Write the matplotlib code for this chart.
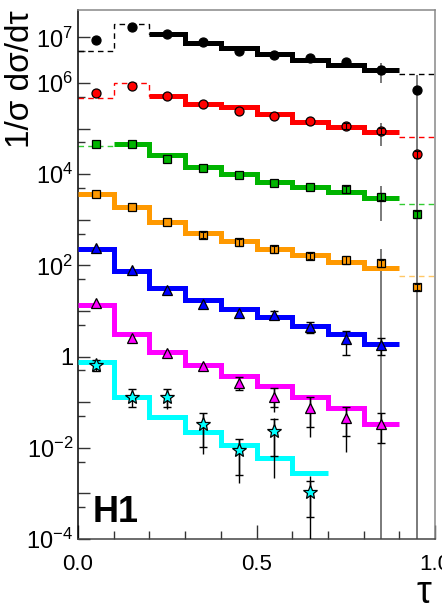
import numpy as np
import matplotlib
matplotlib.use('Agg')
import matplotlib.pyplot as plt
from matplotlib.ticker import FixedLocator, FixedFormatter

plt.rcParams['font.family'] = ['Liberation Sans', 'DejaVu Sans']
plt.rcParams['mathtext.default'] = 'regular'

# bins in tau
edges = [0.0, 0.1, 0.2, 0.3, 0.4, 0.5, 0.6, 0.7, 0.8, 0.9, 1.0]
centres = [0.05, 0.15, 0.25, 0.35, 0.45, 0.55, 0.65, 0.75, 0.85, 0.95]

# data points (scaled per Q2 bin) and model histograms
black_pts = [8.8e6, 1.67e7, 1.19e7, 7.8e6, 5.1e6, 4.1e6, 3.5e6, 2.9e6, 1.93e6, 7.0e5]
black_mc = [5.1e6, 1.97e7, 1.17e7, 7.4e6, 5.8e6, 4.3e6, 3.2e6, 2.5e6, 1.93e6, 1.57e6]

red_pts = [5.9e5, 8.7e5, 5.2e5, 3.4e5, 2.4e5, 1.9e5, 1.47e5, 1.16e5, 8.9e4, 2.8e4]
red_mc = [4.8e5, 9.8e5, 5.3e5, 3.4e5, 3.0e5, 2.1e5, 1.42e5, 1.10e5, 8.3e4, 6.6e4]

green_pts = [4.6e4, 4.6e4, 2.2e4, 1.35e4, 9.5e3, 6.5e3, 5.3e3, 4.7e3, 3.2e3, 1.32e3]
green_mc = [4.2e4, 4.6e4, 2.6e4, 1.46e4, 1.0e4, 6.9e3, 5.3e3, 4.1e3, 3.05e3, 2.2e3]

orange_pts = [3600, 1940, 880, 465, 320, 225, 161, 131, 111, 34]
orange_mc = [3600, 1940, 910, 520, 350, 232, 169, 120, 86, 59]

blue_pts = [237, 79, 29, 14.3, 8.9, 8.2, 4.5, 2.4, 1.8]
blue_mc = [232, 77, 31.5, 17.4, 10.9, 7.3, 4.7, 3.1, 1.9]

magenta_pts = [14.8, 2.5, 1.18, 0.63, 0.26, 0.132, 0.074, 0.044, 0.033]
magenta_mc = [13.6, 3.2, 1.28, 0.655, 0.376, 0.226, 0.132, 0.074, 0.033]

cyan_pts = [0.655, 0.132, 0.132, 0.033, 0.009, 0.023, 0.00106]
cyan_mc = [0.76, 0.128, 0.048, 0.0225, 0.0115, 0.006, 0.0028]

# large (grey) uncertainties: (tau, low, high)
grey_bars = [(0.85, 9.8e5, 2.8e6), (0.95, 1e-5, 1.5e6), (0.85, 4.15e4, 1.35e5),
             (0.85, 955, 5.5e3), (0.85, 1e-5, 225)]

# statistical errors with caps: (tau, value, low, high)
stat_errs = [
    (0.55, 8.2, 7.5, 10.2), (0.65, 4.5, 3.24, 5.82), (0.75, 2.4, 1.08, 3.7), (0.85, 1.8, 1.08, 2.52),
    (0.45, 0.26, 0.185, 0.357), (0.55, 0.132, 0.0785, 0.205), (0.65, 0.074, 0.029, 0.130),
    (0.75, 0.044, 0.0181, 0.0773), (0.85, 0.033, 0.0129, 0.057),
    (0.05, 0.655, 0.483, 0.841), (0.15, 0.132, 0.0796, 0.192), (0.25, 0.132, 0.0773, 0.192),
    (0.35, 0.033, 0.0106, 0.0589), (0.45, 0.009, 0.00253, 0.0153), (0.55, 0.023, 0.0066, 0.0421),
    (0.65, 0.00106, 0.000299, 0.00187),
]
# small errors drawn inside markers
inner_errs = [
    (0.85, 1.93e6, 1.6e6, 2.3e6), (0.75, 1.16e5, 1.0e5, 1.35e5), (0.85, 8.9e4, 7.5e4, 1.05e5),
    (0.95, 2.8e4, 2.3e4, 3.3e4), (0.75, 4.7e3, 3.9e3, 5.6e3), (0.85, 3.2e3, 2.7e3, 3.8e3),
    (0.95, 1.32e3, 1.1e3, 1.55e3), (0.35, 465, 400, 540), (0.45, 320, 270, 380),
    (0.55, 225, 190, 265), (0.65, 161, 136, 190), (0.75, 131, 105, 160), (0.85, 111, 94, 131),
    (0.95, 34, 29, 40),
]
# total errors (line only): (tau, low, high)
total_errs = [(0.55, 0.062, 0.205), (0.65, 0.0175, 0.13), (0.75, 0.0082, 0.0773),
              (0.25, 0.071, 0.192), (0.35, 0.0073, 0.0589), (0.45, 0.00166, 0.0153),
              (0.55, 0.00214, 0.0444), (0.65, 5e-5, 0.00241)]

fig = plt.figure(figsize=(4.42, 6.11), dpi=100)
ax = fig.add_axes([0.1765, 0.1178, 0.8077, 0.8658])
ax.set_yscale('log')
ax.set_xlim(0, 1)
ax.set_ylim(1e-4, 3.98e7)

# colour, marker, marker size, dashed-head bins, dashed tail, dashed colour
series = [
    (black_pts, black_mc, 'black', 'o', 6.5, 3, True, 'black'),
    (red_pts, red_mc, '#ff0000', 'o', 6.5, 3, True, '#ff0000'),
    (green_pts, green_mc, '#00b400', 's', 6.2, 1, True, '#33cc33'),
    (orange_pts, orange_mc, '#ff9900', 's', 6.2, 0, True, '#ffc766'),
    (blue_pts, blue_mc, '#0000ff', '^', 6.8, 0, False, None),
    (magenta_pts, magenta_mc, '#ff00ff', '^', 6.8, 0, False, None),
    (cyan_pts, cyan_mc, '#00ffff', '*', 10, 0, False, None),
]

for pts, mc, col, mk, ms, head, tail, dcol in series:
    n = len(mc)
    last = n - 1 if tail else n
    first = min(head, 2)
    ax.stairs(mc[first:last], edges[first:last + 1],
              color=col, lw=3.6, baseline=None, zorder=3)
    if head:
        ax.stairs(mc[:head], edges[:head + 1], color=dcol, lw=1, ls=(0, (4, 3)),
                  baseline=None, zorder=2)
    if tail:
        ax.stairs(mc[-1:], edges[-2:], color=dcol, lw=1, ls=(0, (4, 3)),
                  baseline=None, zorder=2)
    ax.plot(centres[:len(pts)], pts, ls='none', marker=mk, ms=ms, mfc=col,
            mec='black', mew=0.9, zorder=6)

for x, lo, hi in grey_bars:
    ax.vlines(x, lo, hi, color='#7a7a7a', lw=1.4, zorder=1)
for x, lo, hi in total_errs:
    ax.vlines(x, lo, hi, color='black', lw=1, zorder=5)
for x, y, lo, hi in stat_errs:
    ax.errorbar([x], [y], yerr=[[y - lo], [hi - y]], fmt='none', ecolor='black',
                elinewidth=1, capsize=3, capthick=1, zorder=5)
for x, y, lo, hi in inner_errs:
    ax.errorbar([x], [y], yerr=[[y - lo], [hi - y]], fmt='none', ecolor='black',
                elinewidth=0.8, capsize=2, capthick=0.8, zorder=7)

# axis styling (ROOT-like)
ylab = {7: '$10^{7}$', 6: '$10^{6}$', 4: '$10^{4}$', 2: '$10^{2}$', 0: '1',
        -2: '$10^{-2}$', -4: '$10^{-4}$'}
ymaj = list(range(-4, 8))
ax.yaxis.set_major_locator(FixedLocator([10.0 ** k for k in ymaj]))
ax.yaxis.set_major_formatter(FixedFormatter([ylab.get(k, '') for k in ymaj]))
ax.yaxis.set_minor_locator(FixedLocator([5 * 10.0 ** k for k in range(-4, 7)]))
ax.xaxis.set_major_locator(FixedLocator([0.0, 0.5, 1.0]))
ax.xaxis.set_major_formatter(FixedFormatter(['0.0', '0.5', '1.0']))
ax.xaxis.set_minor_locator(FixedLocator([0.1, 0.2, 0.3, 0.4, 0.6, 0.7, 0.8, 0.9]))

ax.tick_params(axis='y', which='major', direction='in', length=8.5, width=1,
               color='#333333', labelsize=17, pad=3.5)
ax.tick_params(axis='y', which='minor', direction='in', length=5, width=1, color='#333333')
ax.tick_params(axis='x', which='major', direction='in', length=10, width=1,
               color='#333333', labelsize=16, pad=11)
ax.tick_params(axis='x', which='minor', direction='in', length=6, width=1, color='#333333')

ax.spines['left'].set_color('black')
ax.spines['bottom'].set_color('#444444')
ax.spines['top'].set_color('#888888')
ax.spines['right'].set_color('#888888')
for s in ax.spines.values():
    s.set_linewidth(1.1)

fig.text(0.047, 0.9836, '1/σ dσ/dτ', rotation=90, ha='center', va='top', fontsize=24)
fig.text(0.959, 0.0, 'τ', ha='center', va='bottom', fontsize=27)
fig.text(0.2104, 0.1462, 'H1', ha='left', va='baseline', fontsize=26, fontweight='bold')

fig.savefig('out.png', dpi=100)
